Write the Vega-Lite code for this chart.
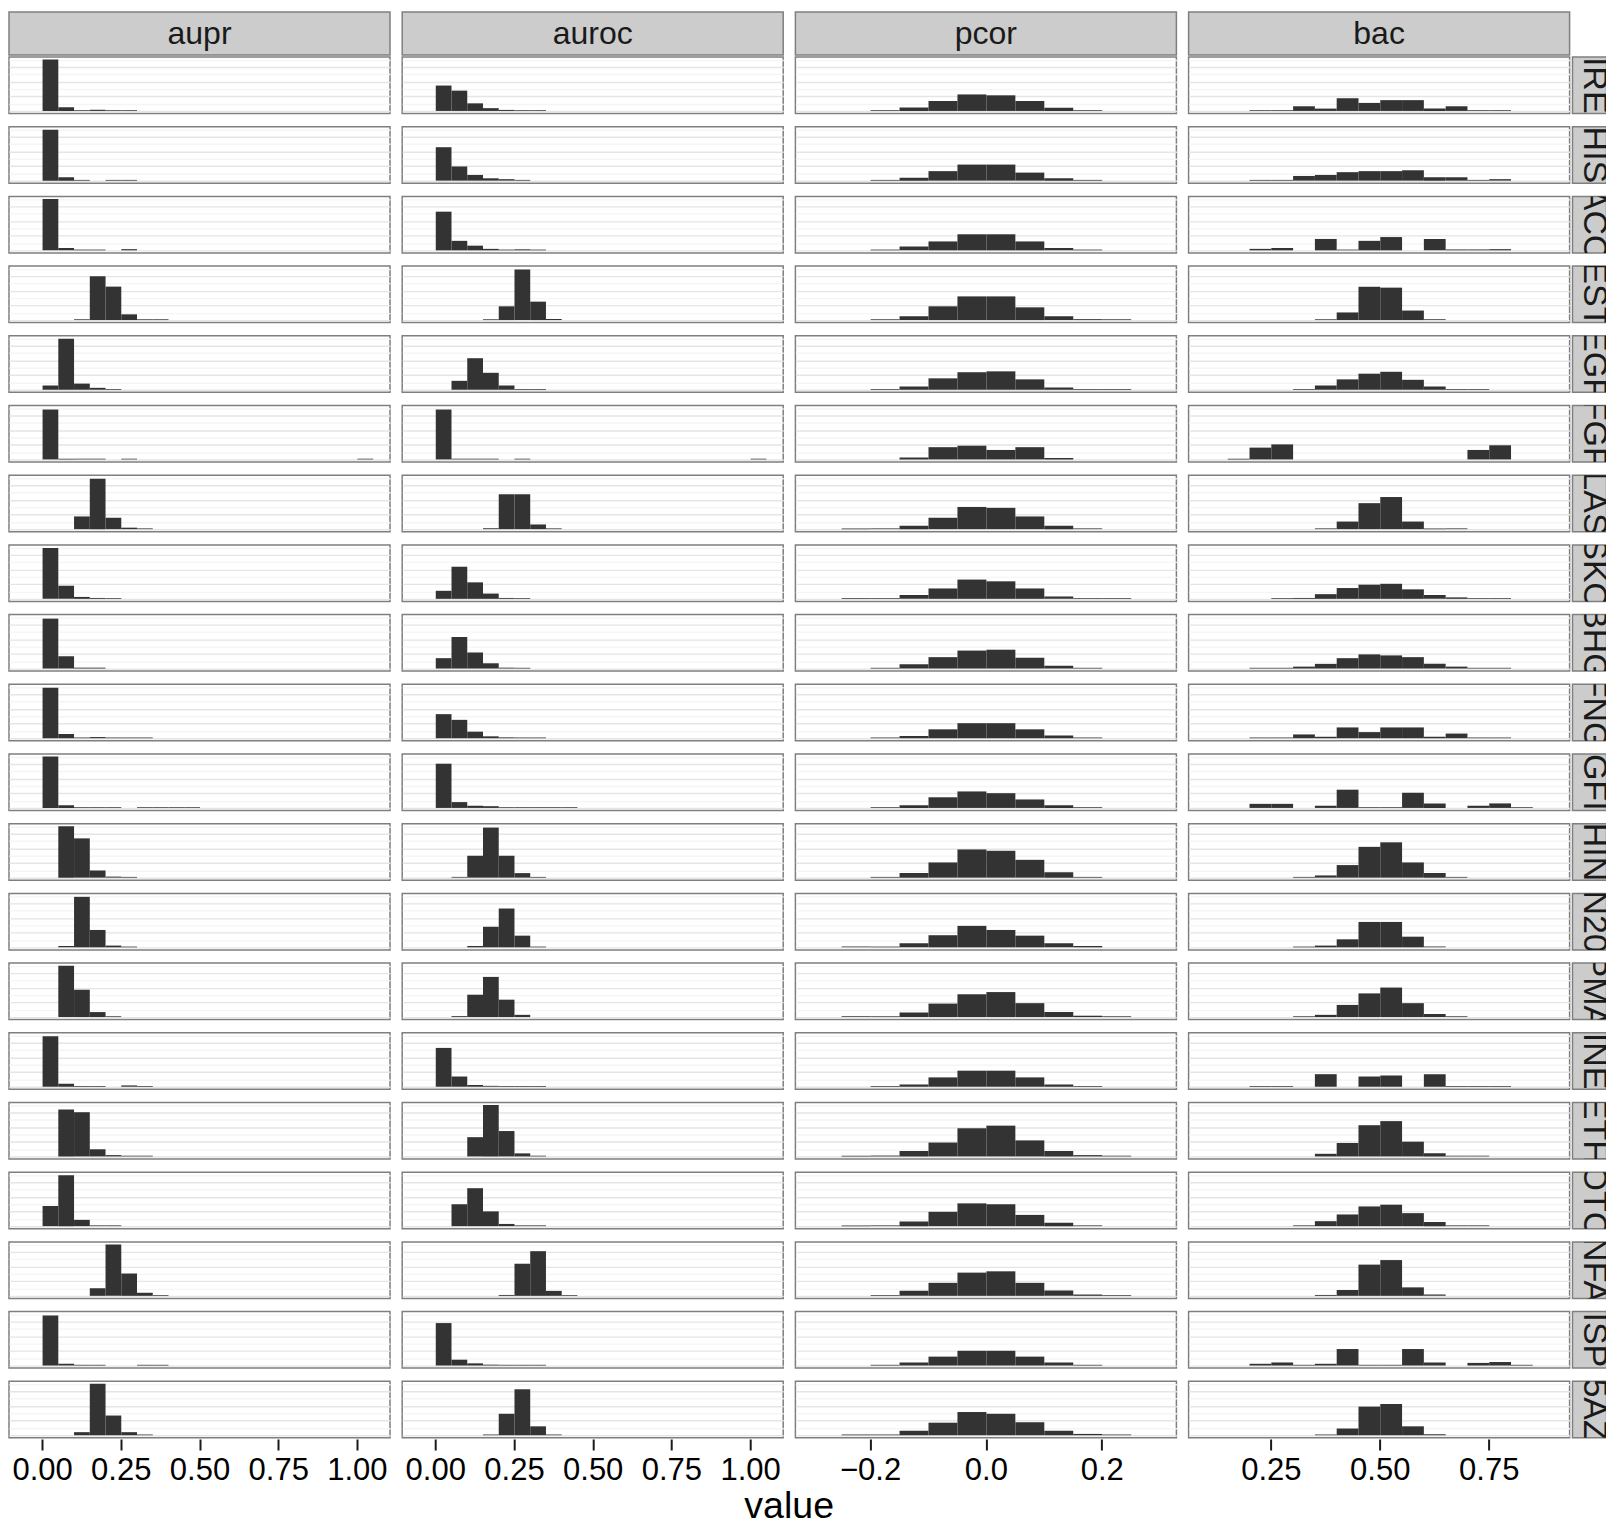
{
"$schema": "https://vega.github.io/schema/vega-lite/v6.json",
"padding": {"left": 8, "top": 11, "right": 0, "bottom": 0},
"background": "white",
"datasets": {
"targets": [{"t":"IRE"},{"t":"HIS"},{"t":"ACO"},{"t":"EST"},{"t":"EGF"},{"t":"FGF"},{"t":"LAS"},{"t":"SKO"},{"t":"BHG"},{"t":"FNG"},{"t":"GFI"},{"t":"HIN"},{"t":"N20"},{"t":"PMA"},{"t":"INE"},{"t":"ETH"},{"t":"OTC"},{"t":"NFA"},{"t":"ISP"},{"t":"5AZ"}],
"aupr": [
{"t":"IRE","lo":0,"hi":0.05,"n":352},{"t":"IRE","lo":0.05,"hi":0.1,"n":26},{"t":"IRE","lo":0.1,"hi":0.15,"n":5},{"t":"IRE","lo":0.15,"hi":0.2,"n":8},{"t":"IRE","lo":0.2,"hi":0.25,"n":5},{"t":"IRE","lo":0.25,"hi":0.3,"n":5},
{"t":"HIS","lo":0,"hi":0.05,"n":349},{"t":"HIS","lo":0.05,"hi":0.1,"n":23},{"t":"HIS","lo":0.1,"hi":0.15,"n":5},{"t":"HIS","lo":0.2,"hi":0.25,"n":5},{"t":"HIS","lo":0.25,"hi":0.3,"n":5},
{"t":"ACO","lo":0,"hi":0.05,"n":352},{"t":"ACO","lo":0.05,"hi":0.1,"n":16},{"t":"ACO","lo":0.1,"hi":0.15,"n":5},{"t":"ACO","lo":0.15,"hi":0.2,"n":5},{"t":"ACO","lo":0.25,"hi":0.3,"n":8},
{"t":"EST","lo":0.1,"hi":0.15,"n":5},{"t":"EST","lo":0.15,"hi":0.2,"n":300},{"t":"EST","lo":0.2,"hi":0.25,"n":229},{"t":"EST","lo":0.25,"hi":0.3,"n":39},{"t":"EST","lo":0.3,"hi":0.35,"n":5},{"t":"EST","lo":0.35,"hi":0.4,"n":5},
{"t":"EGF","lo":0,"hi":0.05,"n":29},{"t":"EGF","lo":0.05,"hi":0.1,"n":349},{"t":"EGF","lo":0.1,"hi":0.15,"n":42},{"t":"EGF","lo":0.15,"hi":0.2,"n":13},{"t":"EGF","lo":0.2,"hi":0.25,"n":5},
{"t":"FGF","lo":0,"hi":0.05,"n":342},{"t":"FGF","lo":0.05,"hi":0.1,"n":5},{"t":"FGF","lo":0.1,"hi":0.15,"n":5},{"t":"FGF","lo":0.15,"hi":0.2,"n":5},{"t":"FGF","lo":0.25,"hi":0.3,"n":5},{"t":"FGF","lo":1,"hi":1.05,"n":5},
{"t":"LAS","lo":0.1,"hi":0.15,"n":87},{"t":"LAS","lo":0.15,"hi":0.2,"n":346},{"t":"LAS","lo":0.2,"hi":0.25,"n":78},{"t":"LAS","lo":0.25,"hi":0.3,"n":10},{"t":"LAS","lo":0.3,"hi":0.35,"n":5},
{"t":"SKO","lo":0,"hi":0.05,"n":349},{"t":"SKO","lo":0.05,"hi":0.1,"n":90},{"t":"SKO","lo":0.1,"hi":0.15,"n":13},{"t":"SKO","lo":0.15,"hi":0.2,"n":6},{"t":"SKO","lo":0.2,"hi":0.25,"n":5},
{"t":"BHG","lo":0,"hi":0.05,"n":342},{"t":"BHG","lo":0.05,"hi":0.1,"n":84},{"t":"BHG","lo":0.1,"hi":0.15,"n":6},{"t":"BHG","lo":0.15,"hi":0.2,"n":6},
{"t":"FNG","lo":0,"hi":0.05,"n":346},{"t":"FNG","lo":0.05,"hi":0.1,"n":29},{"t":"FNG","lo":0.1,"hi":0.15,"n":5},{"t":"FNG","lo":0.15,"hi":0.2,"n":8},{"t":"FNG","lo":0.2,"hi":0.25,"n":5},{"t":"FNG","lo":0.25,"hi":0.3,"n":5},{"t":"FNG","lo":0.3,"hi":0.35,"n":5},
{"t":"GFI","lo":0,"hi":0.05,"n":352},{"t":"GFI","lo":0.05,"hi":0.1,"n":18},{"t":"GFI","lo":0.1,"hi":0.15,"n":5},{"t":"GFI","lo":0.15,"hi":0.2,"n":5},{"t":"GFI","lo":0.2,"hi":0.25,"n":5},{"t":"GFI","lo":0.3,"hi":0.35,"n":5},{"t":"GFI","lo":0.35,"hi":0.4,"n":5},{"t":"GFI","lo":0.4,"hi":0.45,"n":5},{"t":"GFI","lo":0.45,"hi":0.5,"n":5},
{"t":"HIN","lo":0.05,"hi":0.1,"n":352},{"t":"HIN","lo":0.1,"hi":0.15,"n":269},{"t":"HIN","lo":0.15,"hi":0.2,"n":49},{"t":"HIN","lo":0.2,"hi":0.25,"n":7},{"t":"HIN","lo":0.25,"hi":0.3,"n":5},
{"t":"N20","lo":0.05,"hi":0.1,"n":9},{"t":"N20","lo":0.1,"hi":0.15,"n":346},{"t":"N20","lo":0.15,"hi":0.2,"n":119},{"t":"N20","lo":0.2,"hi":0.25,"n":12},{"t":"N20","lo":0.25,"hi":0.3,"n":5},
{"t":"PMA","lo":0.05,"hi":0.1,"n":352},{"t":"PMA","lo":0.1,"hi":0.15,"n":187},{"t":"PMA","lo":0.15,"hi":0.2,"n":34},{"t":"PMA","lo":0.2,"hi":0.25,"n":5},
{"t":"INE","lo":0,"hi":0.05,"n":346},{"t":"INE","lo":0.05,"hi":0.1,"n":21},{"t":"INE","lo":0.1,"hi":0.15,"n":5},{"t":"INE","lo":0.15,"hi":0.2,"n":5},{"t":"INE","lo":0.25,"hi":0.3,"n":9},{"t":"INE","lo":0.3,"hi":0.35,"n":5},
{"t":"ETH","lo":0.05,"hi":0.1,"n":321},{"t":"ETH","lo":0.1,"hi":0.15,"n":303},{"t":"ETH","lo":0.15,"hi":0.2,"n":49},{"t":"ETH","lo":0.2,"hi":0.25,"n":9},{"t":"ETH","lo":0.25,"hi":0.3,"n":5},{"t":"ETH","lo":0.3,"hi":0.35,"n":5},
{"t":"OTC","lo":0,"hi":0.05,"n":138},{"t":"OTC","lo":0.05,"hi":0.1,"n":349},{"t":"OTC","lo":0.1,"hi":0.15,"n":43},{"t":"OTC","lo":0.15,"hi":0.2,"n":5},{"t":"OTC","lo":0.2,"hi":0.25,"n":5},
{"t":"NFA","lo":0.15,"hi":0.2,"n":52},{"t":"NFA","lo":0.2,"hi":0.25,"n":352},{"t":"NFA","lo":0.25,"hi":0.3,"n":153},{"t":"NFA","lo":0.3,"hi":0.35,"n":21},{"t":"NFA","lo":0.35,"hi":0.4,"n":5},
{"t":"ISP","lo":0,"hi":0.05,"n":343},{"t":"ISP","lo":0.05,"hi":0.1,"n":12},{"t":"ISP","lo":0.1,"hi":0.15,"n":5},{"t":"ISP","lo":0.15,"hi":0.2,"n":5},{"t":"ISP","lo":0.3,"hi":0.35,"n":5},{"t":"ISP","lo":0.35,"hi":0.4,"n":5},
{"t":"5AZ","lo":0.1,"hi":0.15,"n":21},{"t":"5AZ","lo":0.15,"hi":0.2,"n":352},{"t":"5AZ","lo":0.2,"hi":0.25,"n":135},{"t":"5AZ","lo":0.25,"hi":0.3,"n":21},{"t":"5AZ","lo":0.3,"hi":0.35,"n":5}
],
"auroc": [
{"t":"IRE","lo":0,"hi":0.05,"n":174},{"t":"IRE","lo":0.05,"hi":0.1,"n":139},{"t":"IRE","lo":0.1,"hi":0.15,"n":52},{"t":"IRE","lo":0.15,"hi":0.2,"n":19},{"t":"IRE","lo":0.2,"hi":0.25,"n":7},{"t":"IRE","lo":0.25,"hi":0.3,"n":5},{"t":"IRE","lo":0.3,"hi":0.35,"n":5},
{"t":"HIS","lo":0,"hi":0.05,"n":229},{"t":"HIS","lo":0.05,"hi":0.1,"n":97},{"t":"HIS","lo":0.1,"hi":0.15,"n":39},{"t":"HIS","lo":0.15,"hi":0.2,"n":16},{"t":"HIS","lo":0.2,"hi":0.25,"n":10},{"t":"HIS","lo":0.25,"hi":0.3,"n":5},
{"t":"ACO","lo":0,"hi":0.05,"n":265},{"t":"ACO","lo":0.05,"hi":0.1,"n":65},{"t":"ACO","lo":0.1,"hi":0.15,"n":32},{"t":"ACO","lo":0.15,"hi":0.2,"n":10},{"t":"ACO","lo":0.2,"hi":0.25,"n":5},{"t":"ACO","lo":0.25,"hi":0.3,"n":7},{"t":"ACO","lo":0.3,"hi":0.35,"n":5},
{"t":"EST","lo":0.15,"hi":0.2,"n":5},{"t":"EST","lo":0.2,"hi":0.25,"n":94},{"t":"EST","lo":0.25,"hi":0.3,"n":346},{"t":"EST","lo":0.3,"hi":0.35,"n":126},{"t":"EST","lo":0.35,"hi":0.4,"n":7},
{"t":"EGF","lo":0.05,"hi":0.1,"n":61},{"t":"EGF","lo":0.1,"hi":0.15,"n":216},{"t":"EGF","lo":0.15,"hi":0.2,"n":116},{"t":"EGF","lo":0.2,"hi":0.25,"n":29},{"t":"EGF","lo":0.25,"hi":0.3,"n":5},{"t":"EGF","lo":0.3,"hi":0.35,"n":5},
{"t":"FGF","lo":0,"hi":0.05,"n":342},{"t":"FGF","lo":0.05,"hi":0.1,"n":5},{"t":"FGF","lo":0.1,"hi":0.15,"n":5},{"t":"FGF","lo":0.15,"hi":0.2,"n":5},{"t":"FGF","lo":0.25,"hi":0.3,"n":5},{"t":"FGF","lo":1,"hi":1.05,"n":5},
{"t":"LAS","lo":0.15,"hi":0.2,"n":6},{"t":"LAS","lo":0.2,"hi":0.25,"n":239},{"t":"LAS","lo":0.25,"hi":0.3,"n":239},{"t":"LAS","lo":0.3,"hi":0.35,"n":32},{"t":"LAS","lo":0.35,"hi":0.4,"n":5},
{"t":"SKO","lo":0,"hi":0.05,"n":55},{"t":"SKO","lo":0.05,"hi":0.1,"n":220},{"t":"SKO","lo":0.1,"hi":0.15,"n":113},{"t":"SKO","lo":0.15,"hi":0.2,"n":36},{"t":"SKO","lo":0.2,"hi":0.25,"n":6},{"t":"SKO","lo":0.25,"hi":0.3,"n":5},
{"t":"BHG","lo":0,"hi":0.05,"n":71},{"t":"BHG","lo":0.05,"hi":0.1,"n":216},{"t":"BHG","lo":0.1,"hi":0.15,"n":110},{"t":"BHG","lo":0.15,"hi":0.2,"n":36},{"t":"BHG","lo":0.2,"hi":0.25,"n":6},{"t":"BHG","lo":0.25,"hi":0.3,"n":5},
{"t":"FNG","lo":0,"hi":0.05,"n":165},{"t":"FNG","lo":0.05,"hi":0.1,"n":126},{"t":"FNG","lo":0.1,"hi":0.15,"n":45},{"t":"FNG","lo":0.15,"hi":0.2,"n":13},{"t":"FNG","lo":0.2,"hi":0.25,"n":6},{"t":"FNG","lo":0.25,"hi":0.3,"n":5},{"t":"FNG","lo":0.3,"hi":0.35,"n":5},
{"t":"GFI","lo":0,"hi":0.05,"n":303},{"t":"GFI","lo":0.05,"hi":0.1,"n":40},{"t":"GFI","lo":0.1,"hi":0.15,"n":15},{"t":"GFI","lo":0.15,"hi":0.2,"n":12},{"t":"GFI","lo":0.2,"hi":0.25,"n":5},{"t":"GFI","lo":0.25,"hi":0.3,"n":5},{"t":"GFI","lo":0.3,"hi":0.35,"n":5},{"t":"GFI","lo":0.35,"hi":0.4,"n":5},{"t":"GFI","lo":0.4,"hi":0.45,"n":5},
{"t":"HIN","lo":0.05,"hi":0.1,"n":5},{"t":"HIN","lo":0.1,"hi":0.15,"n":150},{"t":"HIN","lo":0.15,"hi":0.2,"n":343},{"t":"HIN","lo":0.2,"hi":0.25,"n":150},{"t":"HIN","lo":0.25,"hi":0.3,"n":31},{"t":"HIN","lo":0.3,"hi":0.35,"n":5},
{"t":"N20","lo":0.1,"hi":0.15,"n":9},{"t":"N20","lo":0.15,"hi":0.2,"n":141},{"t":"N20","lo":0.2,"hi":0.25,"n":266},{"t":"N20","lo":0.25,"hi":0.3,"n":80},{"t":"N20","lo":0.3,"hi":0.35,"n":5},
{"t":"PMA","lo":0.05,"hi":0.1,"n":6},{"t":"PMA","lo":0.1,"hi":0.15,"n":153},{"t":"PMA","lo":0.15,"hi":0.2,"n":275},{"t":"PMA","lo":0.2,"hi":0.25,"n":119},{"t":"PMA","lo":0.25,"hi":0.3,"n":15},
{"t":"INE","lo":0,"hi":0.05,"n":266},{"t":"INE","lo":0.05,"hi":0.1,"n":70},{"t":"INE","lo":0.1,"hi":0.15,"n":12},{"t":"INE","lo":0.15,"hi":0.2,"n":6},{"t":"INE","lo":0.2,"hi":0.25,"n":5},{"t":"INE","lo":0.25,"hi":0.3,"n":5},{"t":"INE","lo":0.3,"hi":0.35,"n":5},
{"t":"ETH","lo":0.1,"hi":0.15,"n":132},{"t":"ETH","lo":0.15,"hi":0.2,"n":352},{"t":"ETH","lo":0.2,"hi":0.25,"n":174},{"t":"ETH","lo":0.25,"hi":0.3,"n":21},{"t":"ETH","lo":0.3,"hi":0.35,"n":5},
{"t":"OTC","lo":0.05,"hi":0.1,"n":150},{"t":"OTC","lo":0.1,"hi":0.15,"n":260},{"t":"OTC","lo":0.15,"hi":0.2,"n":101},{"t":"OTC","lo":0.2,"hi":0.25,"n":15},{"t":"OTC","lo":0.25,"hi":0.3,"n":5},{"t":"OTC","lo":0.3,"hi":0.35,"n":5},
{"t":"NFA","lo":0.2,"hi":0.25,"n":6},{"t":"NFA","lo":0.25,"hi":0.3,"n":220},{"t":"NFA","lo":0.3,"hi":0.35,"n":306},{"t":"NFA","lo":0.35,"hi":0.4,"n":34},{"t":"NFA","lo":0.4,"hi":0.45,"n":5},
{"t":"ISP","lo":0,"hi":0.05,"n":291},{"t":"ISP","lo":0.05,"hi":0.1,"n":40},{"t":"ISP","lo":0.1,"hi":0.15,"n":15},{"t":"ISP","lo":0.15,"hi":0.2,"n":6},{"t":"ISP","lo":0.2,"hi":0.25,"n":5},{"t":"ISP","lo":0.25,"hi":0.3,"n":5},{"t":"ISP","lo":0.3,"hi":0.35,"n":5},
{"t":"5AZ","lo":0.15,"hi":0.2,"n":5},{"t":"5AZ","lo":0.2,"hi":0.25,"n":147},{"t":"5AZ","lo":0.25,"hi":0.3,"n":315},{"t":"5AZ","lo":0.3,"hi":0.35,"n":61},{"t":"5AZ","lo":0.35,"hi":0.4,"n":5}
],
"pcor": [
{"t":"IRE","lo":-0.2,"hi":-0.15,"n":5},{"t":"IRE","lo":-0.15,"hi":-0.1,"n":23},{"t":"IRE","lo":-0.1,"hi":-0.05,"n":68},{"t":"IRE","lo":-0.05,"hi":0,"n":113},{"t":"IRE","lo":0,"hi":0.05,"n":107},{"t":"IRE","lo":0.05,"hi":0.1,"n":68},{"t":"IRE","lo":0.1,"hi":0.15,"n":21},{"t":"IRE","lo":0.15,"hi":0.2,"n":5},
{"t":"HIS","lo":-0.2,"hi":-0.15,"n":5},{"t":"HIS","lo":-0.15,"hi":-0.1,"n":19},{"t":"HIS","lo":-0.1,"hi":-0.05,"n":65},{"t":"HIS","lo":-0.05,"hi":0,"n":110},{"t":"HIS","lo":0,"hi":0.05,"n":110},{"t":"HIS","lo":0.05,"hi":0.1,"n":55},{"t":"HIS","lo":0.1,"hi":0.15,"n":16},{"t":"HIS","lo":0.15,"hi":0.2,"n":5},
{"t":"ACO","lo":-0.2,"hi":-0.15,"n":5},{"t":"ACO","lo":-0.15,"hi":-0.1,"n":26},{"t":"ACO","lo":-0.1,"hi":-0.05,"n":61},{"t":"ACO","lo":-0.05,"hi":0,"n":110},{"t":"ACO","lo":0,"hi":0.05,"n":110},{"t":"ACO","lo":0.05,"hi":0.1,"n":61},{"t":"ACO","lo":0.1,"hi":0.15,"n":16},{"t":"ACO","lo":0.15,"hi":0.2,"n":5},
{"t":"EST","lo":-0.2,"hi":-0.15,"n":5},{"t":"EST","lo":-0.15,"hi":-0.1,"n":26},{"t":"EST","lo":-0.1,"hi":-0.05,"n":94},{"t":"EST","lo":-0.05,"hi":0,"n":162},{"t":"EST","lo":0,"hi":0.05,"n":162},{"t":"EST","lo":0.05,"hi":0.1,"n":87},{"t":"EST","lo":0.1,"hi":0.15,"n":26},{"t":"EST","lo":0.15,"hi":0.2,"n":6},{"t":"EST","lo":0.2,"hi":0.25,"n":5},
{"t":"EGF","lo":-0.2,"hi":-0.15,"n":5},{"t":"EGF","lo":-0.15,"hi":-0.1,"n":23},{"t":"EGF","lo":-0.1,"hi":-0.05,"n":78},{"t":"EGF","lo":-0.05,"hi":0,"n":120},{"t":"EGF","lo":0,"hi":0.05,"n":126},{"t":"EGF","lo":0.05,"hi":0.1,"n":71},{"t":"EGF","lo":0.1,"hi":0.15,"n":16},{"t":"EGF","lo":0.15,"hi":0.2,"n":5},{"t":"EGF","lo":0.2,"hi":0.25,"n":5},
{"t":"FGF","lo":-0.15,"hi":-0.1,"n":13},{"t":"FGF","lo":-0.1,"hi":-0.05,"n":84},{"t":"FGF","lo":-0.05,"hi":0,"n":94},{"t":"FGF","lo":0,"hi":0.05,"n":65},{"t":"FGF","lo":0.05,"hi":0.1,"n":84},{"t":"FGF","lo":0.1,"hi":0.15,"n":10},
{"t":"LAS","lo":-0.25,"hi":-0.2,"n":5},{"t":"LAS","lo":-0.2,"hi":-0.15,"n":5},{"t":"LAS","lo":-0.15,"hi":-0.1,"n":23},{"t":"LAS","lo":-0.1,"hi":-0.05,"n":78},{"t":"LAS","lo":-0.05,"hi":0,"n":152},{"t":"LAS","lo":0,"hi":0.05,"n":146},{"t":"LAS","lo":0.05,"hi":0.1,"n":87},{"t":"LAS","lo":0.1,"hi":0.15,"n":23},{"t":"LAS","lo":0.15,"hi":0.2,"n":5},
{"t":"SKO","lo":-0.25,"hi":-0.2,"n":5},{"t":"SKO","lo":-0.2,"hi":-0.15,"n":5},{"t":"SKO","lo":-0.15,"hi":-0.1,"n":26},{"t":"SKO","lo":-0.1,"hi":-0.05,"n":71},{"t":"SKO","lo":-0.05,"hi":0,"n":132},{"t":"SKO","lo":0,"hi":0.05,"n":120},{"t":"SKO","lo":0.05,"hi":0.1,"n":71},{"t":"SKO","lo":0.1,"hi":0.15,"n":16},{"t":"SKO","lo":0.15,"hi":0.2,"n":5},{"t":"SKO","lo":0.2,"hi":0.25,"n":5},
{"t":"BHG","lo":-0.2,"hi":-0.15,"n":5},{"t":"BHG","lo":-0.15,"hi":-0.1,"n":29},{"t":"BHG","lo":-0.1,"hi":-0.05,"n":78},{"t":"BHG","lo":-0.05,"hi":0,"n":123},{"t":"BHG","lo":0,"hi":0.05,"n":129},{"t":"BHG","lo":0.05,"hi":0.1,"n":74},{"t":"BHG","lo":0.1,"hi":0.15,"n":19},{"t":"BHG","lo":0.15,"hi":0.2,"n":5},
{"t":"FNG","lo":-0.2,"hi":-0.15,"n":5},{"t":"FNG","lo":-0.15,"hi":-0.1,"n":16},{"t":"FNG","lo":-0.1,"hi":-0.05,"n":61},{"t":"FNG","lo":-0.05,"hi":0,"n":103},{"t":"FNG","lo":0,"hi":0.05,"n":103},{"t":"FNG","lo":0.05,"hi":0.1,"n":61},{"t":"FNG","lo":0.1,"hi":0.15,"n":19},{"t":"FNG","lo":0.15,"hi":0.2,"n":5},
{"t":"GFI","lo":-0.2,"hi":-0.15,"n":5},{"t":"GFI","lo":-0.15,"hi":-0.1,"n":18},{"t":"GFI","lo":-0.1,"hi":-0.05,"n":73},{"t":"GFI","lo":-0.05,"hi":0,"n":113},{"t":"GFI","lo":0,"hi":0.05,"n":101},{"t":"GFI","lo":0.05,"hi":0.1,"n":58},{"t":"GFI","lo":0.1,"hi":0.15,"n":18},{"t":"GFI","lo":0.15,"hi":0.2,"n":5},
{"t":"HIN","lo":-0.2,"hi":-0.15,"n":5},{"t":"HIN","lo":-0.15,"hi":-0.1,"n":31},{"t":"HIN","lo":-0.1,"hi":-0.05,"n":104},{"t":"HIN","lo":-0.05,"hi":0,"n":193},{"t":"HIN","lo":0,"hi":0.05,"n":184},{"t":"HIN","lo":0.05,"hi":0.1,"n":122},{"t":"HIN","lo":0.1,"hi":0.15,"n":37},{"t":"HIN","lo":0.15,"hi":0.2,"n":5},
{"t":"N20","lo":-0.25,"hi":-0.2,"n":5},{"t":"N20","lo":-0.2,"hi":-0.15,"n":5},{"t":"N20","lo":-0.15,"hi":-0.1,"n":28},{"t":"N20","lo":-0.1,"hi":-0.05,"n":83},{"t":"N20","lo":-0.05,"hi":0,"n":147},{"t":"N20","lo":0,"hi":0.05,"n":119},{"t":"N20","lo":0.05,"hi":0.1,"n":80},{"t":"N20","lo":0.1,"hi":0.15,"n":28},{"t":"N20","lo":0.15,"hi":0.2,"n":9},
{"t":"PMA","lo":-0.25,"hi":-0.2,"n":5},{"t":"PMA","lo":-0.2,"hi":-0.15,"n":5},{"t":"PMA","lo":-0.15,"hi":-0.1,"n":31},{"t":"PMA","lo":-0.1,"hi":-0.05,"n":92},{"t":"PMA","lo":-0.05,"hi":0,"n":156},{"t":"PMA","lo":0,"hi":0.05,"n":171},{"t":"PMA","lo":0.05,"hi":0.1,"n":95},{"t":"PMA","lo":0.1,"hi":0.15,"n":34},{"t":"PMA","lo":0.15,"hi":0.2,"n":9},{"t":"PMA","lo":0.2,"hi":0.25,"n":5},
{"t":"INE","lo":-0.2,"hi":-0.15,"n":5},{"t":"INE","lo":-0.15,"hi":-0.1,"n":15},{"t":"INE","lo":-0.1,"hi":-0.05,"n":64},{"t":"INE","lo":-0.05,"hi":0,"n":110},{"t":"INE","lo":0,"hi":0.05,"n":110},{"t":"INE","lo":0.05,"hi":0.1,"n":64},{"t":"INE","lo":0.1,"hi":0.15,"n":15},{"t":"INE","lo":0.15,"hi":0.2,"n":5},
{"t":"ETH","lo":-0.25,"hi":-0.2,"n":5},{"t":"ETH","lo":-0.2,"hi":-0.15,"n":6},{"t":"ETH","lo":-0.15,"hi":-0.1,"n":37},{"t":"ETH","lo":-0.1,"hi":-0.05,"n":95},{"t":"ETH","lo":-0.05,"hi":0,"n":193},{"t":"ETH","lo":0,"hi":0.05,"n":211},{"t":"ETH","lo":0.05,"hi":0.1,"n":110},{"t":"ETH","lo":0.1,"hi":0.15,"n":37},{"t":"ETH","lo":0.15,"hi":0.2,"n":9},{"t":"ETH","lo":0.2,"hi":0.25,"n":5},
{"t":"OTC","lo":-0.25,"hi":-0.2,"n":5},{"t":"OTC","lo":-0.2,"hi":-0.15,"n":5},{"t":"OTC","lo":-0.15,"hi":-0.1,"n":31},{"t":"OTC","lo":-0.1,"hi":-0.05,"n":98},{"t":"OTC","lo":-0.05,"hi":0,"n":156},{"t":"OTC","lo":0,"hi":0.05,"n":150},{"t":"OTC","lo":0.05,"hi":0.1,"n":77},{"t":"OTC","lo":0.1,"hi":0.15,"n":24},{"t":"OTC","lo":0.15,"hi":0.2,"n":5},
{"t":"NFA","lo":-0.2,"hi":-0.15,"n":5},{"t":"NFA","lo":-0.15,"hi":-0.1,"n":34},{"t":"NFA","lo":-0.1,"hi":-0.05,"n":89},{"t":"NFA","lo":-0.05,"hi":0,"n":159},{"t":"NFA","lo":0,"hi":0.05,"n":168},{"t":"NFA","lo":0.05,"hi":0.1,"n":89},{"t":"NFA","lo":0.1,"hi":0.15,"n":37},{"t":"NFA","lo":0.15,"hi":0.2,"n":9},{"t":"NFA","lo":0.2,"hi":0.25,"n":5},
{"t":"ISP","lo":-0.2,"hi":-0.15,"n":5},{"t":"ISP","lo":-0.15,"hi":-0.1,"n":21},{"t":"ISP","lo":-0.1,"hi":-0.05,"n":61},{"t":"ISP","lo":-0.05,"hi":0,"n":101},{"t":"ISP","lo":0,"hi":0.05,"n":101},{"t":"ISP","lo":0.05,"hi":0.1,"n":61},{"t":"ISP","lo":0.1,"hi":0.15,"n":21},{"t":"ISP","lo":0.15,"hi":0.2,"n":5},
{"t":"5AZ","lo":-0.25,"hi":-0.2,"n":5},{"t":"5AZ","lo":-0.2,"hi":-0.15,"n":5},{"t":"5AZ","lo":-0.15,"hi":-0.1,"n":31},{"t":"5AZ","lo":-0.1,"hi":-0.05,"n":86},{"t":"5AZ","lo":-0.05,"hi":0,"n":159},{"t":"5AZ","lo":0,"hi":0.05,"n":147},{"t":"5AZ","lo":0.05,"hi":0.1,"n":89},{"t":"5AZ","lo":0.1,"hi":0.15,"n":31},{"t":"5AZ","lo":0.15,"hi":0.2,"n":9},{"t":"5AZ","lo":0.2,"hi":0.25,"n":5}
],
"bac": [
{"t":"IRE","lo":0.2,"hi":0.25,"n":5},{"t":"IRE","lo":0.25,"hi":0.3,"n":5},{"t":"IRE","lo":0.3,"hi":0.35,"n":32},{"t":"IRE","lo":0.35,"hi":0.4,"n":16},{"t":"IRE","lo":0.4,"hi":0.45,"n":87},{"t":"IRE","lo":0.45,"hi":0.5,"n":55},{"t":"IRE","lo":0.5,"hi":0.55,"n":74},{"t":"IRE","lo":0.55,"hi":0.6,"n":74},{"t":"IRE","lo":0.6,"hi":0.65,"n":16},{"t":"IRE","lo":0.65,"hi":0.7,"n":32},{"t":"IRE","lo":0.7,"hi":0.75,"n":5},{"t":"IRE","lo":0.75,"hi":0.8,"n":5},
{"t":"HIS","lo":0.2,"hi":0.25,"n":5},{"t":"HIS","lo":0.25,"hi":0.3,"n":5},{"t":"HIS","lo":0.3,"hi":0.35,"n":32},{"t":"HIS","lo":0.35,"hi":0.4,"n":39},{"t":"HIS","lo":0.4,"hi":0.45,"n":58},{"t":"HIS","lo":0.45,"hi":0.5,"n":65},{"t":"HIS","lo":0.5,"hi":0.55,"n":65},{"t":"HIS","lo":0.55,"hi":0.6,"n":71},{"t":"HIS","lo":0.6,"hi":0.65,"n":23},{"t":"HIS","lo":0.65,"hi":0.7,"n":23},{"t":"HIS","lo":0.7,"hi":0.75,"n":5},{"t":"HIS","lo":0.75,"hi":0.8,"n":10},
{"t":"ACO","lo":0.2,"hi":0.25,"n":10},{"t":"ACO","lo":0.25,"hi":0.3,"n":16},{"t":"ACO","lo":0.35,"hi":0.4,"n":78},{"t":"ACO","lo":0.4,"hi":0.45,"n":5},{"t":"ACO","lo":0.45,"hi":0.5,"n":65},{"t":"ACO","lo":0.5,"hi":0.55,"n":91},{"t":"ACO","lo":0.6,"hi":0.65,"n":78},{"t":"ACO","lo":0.65,"hi":0.7,"n":6},{"t":"ACO","lo":0.7,"hi":0.75,"n":6},{"t":"ACO","lo":0.75,"hi":0.8,"n":8},
{"t":"EST","lo":0.35,"hi":0.4,"n":5},{"t":"EST","lo":0.4,"hi":0.45,"n":52},{"t":"EST","lo":0.45,"hi":0.5,"n":228},{"t":"EST","lo":0.5,"hi":0.55,"n":222},{"t":"EST","lo":0.55,"hi":0.6,"n":65},{"t":"EST","lo":0.6,"hi":0.65,"n":6},
{"t":"EGF","lo":0.3,"hi":0.35,"n":5},{"t":"EGF","lo":0.35,"hi":0.4,"n":29},{"t":"EGF","lo":0.4,"hi":0.45,"n":71},{"t":"EGF","lo":0.45,"hi":0.5,"n":110},{"t":"EGF","lo":0.5,"hi":0.55,"n":123},{"t":"EGF","lo":0.55,"hi":0.6,"n":68},{"t":"EGF","lo":0.6,"hi":0.65,"n":23},{"t":"EGF","lo":0.65,"hi":0.7,"n":5},{"t":"EGF","lo":0.7,"hi":0.75,"n":5},
{"t":"FGF","lo":0.15,"hi":0.2,"n":5},{"t":"FGF","lo":0.2,"hi":0.25,"n":81},{"t":"FGF","lo":0.25,"hi":0.3,"n":103},{"t":"FGF","lo":0.7,"hi":0.75,"n":65},{"t":"FGF","lo":0.75,"hi":0.8,"n":97},
{"t":"LAS","lo":0.35,"hi":0.4,"n":5},{"t":"LAS","lo":0.4,"hi":0.45,"n":52},{"t":"LAS","lo":0.45,"hi":0.5,"n":178},{"t":"LAS","lo":0.5,"hi":0.55,"n":220},{"t":"LAS","lo":0.55,"hi":0.6,"n":52},{"t":"LAS","lo":0.6,"hi":0.65,"n":5},{"t":"LAS","lo":0.65,"hi":0.7,"n":5},
{"t":"SKO","lo":0.25,"hi":0.3,"n":5},{"t":"SKO","lo":0.3,"hi":0.35,"n":6},{"t":"SKO","lo":0.35,"hi":0.4,"n":32},{"t":"SKO","lo":0.4,"hi":0.45,"n":74},{"t":"SKO","lo":0.45,"hi":0.5,"n":97},{"t":"SKO","lo":0.5,"hi":0.55,"n":103},{"t":"SKO","lo":0.55,"hi":0.6,"n":65},{"t":"SKO","lo":0.6,"hi":0.65,"n":26},{"t":"SKO","lo":0.65,"hi":0.7,"n":10},{"t":"SKO","lo":0.7,"hi":0.75,"n":5},{"t":"SKO","lo":0.75,"hi":0.8,"n":5},
{"t":"BHG","lo":0.2,"hi":0.25,"n":5},{"t":"BHG","lo":0.25,"hi":0.3,"n":5},{"t":"BHG","lo":0.3,"hi":0.35,"n":13},{"t":"BHG","lo":0.35,"hi":0.4,"n":32},{"t":"BHG","lo":0.4,"hi":0.45,"n":71},{"t":"BHG","lo":0.45,"hi":0.5,"n":97},{"t":"BHG","lo":0.5,"hi":0.55,"n":90},{"t":"BHG","lo":0.55,"hi":0.6,"n":78},{"t":"BHG","lo":0.6,"hi":0.65,"n":32},{"t":"BHG","lo":0.65,"hi":0.7,"n":13},{"t":"BHG","lo":0.7,"hi":0.75,"n":5},{"t":"BHG","lo":0.75,"hi":0.8,"n":5},
{"t":"FNG","lo":0.2,"hi":0.25,"n":5},{"t":"FNG","lo":0.25,"hi":0.3,"n":5},{"t":"FNG","lo":0.3,"hi":0.35,"n":26},{"t":"FNG","lo":0.35,"hi":0.4,"n":10},{"t":"FNG","lo":0.4,"hi":0.45,"n":74},{"t":"FNG","lo":0.45,"hi":0.5,"n":42},{"t":"FNG","lo":0.5,"hi":0.55,"n":74},{"t":"FNG","lo":0.55,"hi":0.6,"n":74},{"t":"FNG","lo":0.6,"hi":0.65,"n":10},{"t":"FNG","lo":0.65,"hi":0.7,"n":32},{"t":"FNG","lo":0.7,"hi":0.75,"n":5},{"t":"FNG","lo":0.75,"hi":0.8,"n":5},
{"t":"GFI","lo":0.2,"hi":0.25,"n":28},{"t":"GFI","lo":0.25,"hi":0.3,"n":28},{"t":"GFI","lo":0.35,"hi":0.4,"n":15},{"t":"GFI","lo":0.4,"hi":0.45,"n":125},{"t":"GFI","lo":0.45,"hi":0.5,"n":5},{"t":"GFI","lo":0.5,"hi":0.55,"n":5},{"t":"GFI","lo":0.55,"hi":0.6,"n":104},{"t":"GFI","lo":0.6,"hi":0.65,"n":31},{"t":"GFI","lo":0.7,"hi":0.75,"n":15},{"t":"GFI","lo":0.75,"hi":0.8,"n":31},{"t":"GFI","lo":0.8,"hi":0.85,"n":5},
{"t":"HIN","lo":0.3,"hi":0.35,"n":5},{"t":"HIN","lo":0.35,"hi":0.4,"n":15},{"t":"HIN","lo":0.4,"hi":0.45,"n":86},{"t":"HIN","lo":0.45,"hi":0.5,"n":211},{"t":"HIN","lo":0.5,"hi":0.55,"n":242},{"t":"HIN","lo":0.55,"hi":0.6,"n":104},{"t":"HIN","lo":0.6,"hi":0.65,"n":31},{"t":"HIN","lo":0.65,"hi":0.7,"n":5},
{"t":"N20","lo":0.3,"hi":0.35,"n":5},{"t":"N20","lo":0.35,"hi":0.4,"n":12},{"t":"N20","lo":0.4,"hi":0.45,"n":55},{"t":"N20","lo":0.45,"hi":0.5,"n":174},{"t":"N20","lo":0.5,"hi":0.55,"n":174},{"t":"N20","lo":0.55,"hi":0.6,"n":73},{"t":"N20","lo":0.6,"hi":0.65,"n":6},
{"t":"PMA","lo":0.3,"hi":0.35,"n":5},{"t":"PMA","lo":0.35,"hi":0.4,"n":15},{"t":"PMA","lo":0.4,"hi":0.45,"n":83},{"t":"PMA","lo":0.45,"hi":0.5,"n":162},{"t":"PMA","lo":0.5,"hi":0.55,"n":202},{"t":"PMA","lo":0.55,"hi":0.6,"n":95},{"t":"PMA","lo":0.6,"hi":0.65,"n":21},{"t":"PMA","lo":0.65,"hi":0.7,"n":5},
{"t":"INE","lo":0.2,"hi":0.25,"n":5},{"t":"INE","lo":0.25,"hi":0.3,"n":5},{"t":"INE","lo":0.35,"hi":0.4,"n":86},{"t":"INE","lo":0.45,"hi":0.5,"n":70},{"t":"INE","lo":0.5,"hi":0.55,"n":77},{"t":"INE","lo":0.6,"hi":0.65,"n":86},{"t":"INE","lo":0.65,"hi":0.7,"n":5},{"t":"INE","lo":0.7,"hi":0.75,"n":5},{"t":"INE","lo":0.75,"hi":0.8,"n":5},
{"t":"ETH","lo":0.35,"hi":0.4,"n":18},{"t":"ETH","lo":0.4,"hi":0.45,"n":92},{"t":"ETH","lo":0.45,"hi":0.5,"n":214},{"t":"ETH","lo":0.5,"hi":0.55,"n":242},{"t":"ETH","lo":0.55,"hi":0.6,"n":101},{"t":"ETH","lo":0.6,"hi":0.65,"n":21},{"t":"ETH","lo":0.65,"hi":0.7,"n":5},{"t":"ETH","lo":0.7,"hi":0.75,"n":5},
{"t":"OTC","lo":0.3,"hi":0.35,"n":5},{"t":"OTC","lo":0.35,"hi":0.4,"n":34},{"t":"OTC","lo":0.4,"hi":0.45,"n":80},{"t":"OTC","lo":0.45,"hi":0.5,"n":135},{"t":"OTC","lo":0.5,"hi":0.55,"n":147},{"t":"OTC","lo":0.55,"hi":0.6,"n":89},{"t":"OTC","lo":0.6,"hi":0.65,"n":28},{"t":"OTC","lo":0.65,"hi":0.7,"n":5},{"t":"OTC","lo":0.7,"hi":0.75,"n":5},
{"t":"NFA","lo":0.35,"hi":0.4,"n":6},{"t":"NFA","lo":0.4,"hi":0.45,"n":40},{"t":"NFA","lo":0.45,"hi":0.5,"n":214},{"t":"NFA","lo":0.5,"hi":0.55,"n":245},{"t":"NFA","lo":0.55,"hi":0.6,"n":58},{"t":"NFA","lo":0.6,"hi":0.65,"n":9},
{"t":"ISP","lo":0.2,"hi":0.25,"n":12},{"t":"ISP","lo":0.25,"hi":0.3,"n":21},{"t":"ISP","lo":0.3,"hi":0.35,"n":5},{"t":"ISP","lo":0.35,"hi":0.4,"n":12},{"t":"ISP","lo":0.4,"hi":0.45,"n":113},{"t":"ISP","lo":0.45,"hi":0.5,"n":5},{"t":"ISP","lo":0.5,"hi":0.55,"n":5},{"t":"ISP","lo":0.55,"hi":0.6,"n":113},{"t":"ISP","lo":0.6,"hi":0.65,"n":21},{"t":"ISP","lo":0.7,"hi":0.75,"n":18},{"t":"ISP","lo":0.75,"hi":0.8,"n":24},{"t":"ISP","lo":0.8,"hi":0.85,"n":5},
{"t":"5AZ","lo":0.35,"hi":0.4,"n":5},{"t":"5AZ","lo":0.4,"hi":0.45,"n":46},{"t":"5AZ","lo":0.45,"hi":0.5,"n":196},{"t":"5AZ","lo":0.5,"hi":0.55,"n":214},{"t":"5AZ","lo":0.55,"hi":0.6,"n":61},{"t":"5AZ","lo":0.6,"hi":0.65,"n":6}
]
},
"vconcat": [
{
"hconcat": [
{"data": {"values": [{"m": "aupr"}]}, "width": 381, "height": 43, "view": {"fill": "#CCCCCC", "stroke": "#7F7F7F", "strokeWidth": 1.5}, "mark": {"type": "text", "fontSize": 32, "color": "#1A1A1A", "baseline": "middle"}, "encoding": {"text": {"field": "m"}}},
{"data": {"values": [{"m": "auroc"}]}, "width": 381, "height": 43, "view": {"fill": "#CCCCCC", "stroke": "#7F7F7F", "strokeWidth": 1.5}, "mark": {"type": "text", "fontSize": 32, "color": "#1A1A1A", "baseline": "middle"}, "encoding": {"text": {"field": "m"}}},
{"data": {"values": [{"m": "pcor"}]}, "width": 381, "height": 43, "view": {"fill": "#CCCCCC", "stroke": "#7F7F7F", "strokeWidth": 1.5}, "mark": {"type": "text", "fontSize": 32, "color": "#1A1A1A", "baseline": "middle"}, "encoding": {"text": {"field": "m"}}},
{"data": {"values": [{"m": "bac"}]}, "width": 381, "height": 43, "view": {"fill": "#CCCCCC", "stroke": "#7F7F7F", "strokeWidth": 1.5}, "mark": {"type": "text", "fontSize": 32, "color": "#1A1A1A", "baseline": "middle"}, "encoding": {"text": {"field": "m"}}}
],
"spacing": 10.2
},
{
"hconcat": [
{
"hconcat": [
{
"data": {"name": "aupr"},
"facet": {"row": {"field": "t", "type": "nominal", "sort": ["IRE","HIS","ACO","EST","EGF","FGF","LAS","SKO","BHG","FNG","GFI","HIN","N20","PMA","INE","ETH","OTC","NFA","ISP","5AZ"], "header": null}},
"spacing": {"row": 10.7},
"spec": {
"width": 381, "height": 56.5,
"mark": {"type": "bar", "binSpacing": 0, "color": "#333333"},
"encoding": {
"x": {"field": "lo", "type": "quantitative", "bin": "binned", "scale": {"domain": [-0.105, 1.105], "nice": false, "zero": false},
 "axis": {"title": null, "values": [0, 0.125, 0.25, 0.375, 0.5, 0.625, 0.75, 0.875, 1],
  "labelExpr": "abs(datum.value*4-round(datum.value*4))<0.001 ? format(datum.value,'.2f') : ''",
  "gridColor": {"condition": {"test": "abs(datum.value*4-round(datum.value*4))<0.001", "value": "#E5E5E5"}, "value": "#F5F5F5"},
  "tickOpacity": {"condition": {"test": "abs(datum.value*4-round(datum.value*4))<0.001", "value": 1}, "value": 0}}},
"x2": {"field": "hi"},
"y": {"field": "n", "type": "quantitative", "scale": {"domain": [-17.6, 369.6], "nice": false, "zero": false},
 "axis": {"title": null, "labels": false, "ticks": false, "domain": false, "values": [0, 50, 100, 150, 200, 250, 300, 350],
  "gridColor": {"condition": {"test": "datum.value % 100 === 0", "value": "#E5E5E5"}, "value": "#F5F5F5"}}},
"y2": {"datum": 0}
}
}
},
{
"data": {"name": "auroc"},
"facet": {"row": {"field": "t", "type": "nominal", "sort": ["IRE","HIS","ACO","EST","EGF","FGF","LAS","SKO","BHG","FNG","GFI","HIN","N20","PMA","INE","ETH","OTC","NFA","ISP","5AZ"], "header": null}},
"spacing": {"row": 10.7},
"spec": {
"width": 381, "height": 56.5,
"mark": {"type": "bar", "binSpacing": 0, "color": "#333333"},
"encoding": {
"x": {"field": "lo", "type": "quantitative", "bin": "binned", "scale": {"domain": [-0.105, 1.105], "nice": false, "zero": false},
 "axis": {"title": null, "values": [0, 0.125, 0.25, 0.375, 0.5, 0.625, 0.75, 0.875, 1],
  "labelExpr": "abs(datum.value*4-round(datum.value*4))<0.001 ? format(datum.value,'.2f') : ''",
  "gridColor": {"condition": {"test": "abs(datum.value*4-round(datum.value*4))<0.001", "value": "#E5E5E5"}, "value": "#F5F5F5"},
  "tickOpacity": {"condition": {"test": "abs(datum.value*4-round(datum.value*4))<0.001", "value": 1}, "value": 0}}},
"x2": {"field": "hi"},
"y": {"field": "n", "type": "quantitative", "scale": {"domain": [-17.6, 369.6], "nice": false, "zero": false},
 "axis": {"title": null, "labels": false, "ticks": false, "domain": false, "values": [0, 50, 100, 150, 200, 250, 300, 350],
  "gridColor": {"condition": {"test": "datum.value % 100 === 0", "value": "#E5E5E5"}, "value": "#F5F5F5"}}},
"y2": {"datum": 0}
}
}
},
{
"data": {"name": "pcor"},
"facet": {"row": {"field": "t", "type": "nominal", "sort": ["IRE","HIS","ACO","EST","EGF","FGF","LAS","SKO","BHG","FNG","GFI","HIN","N20","PMA","INE","ETH","OTC","NFA","ISP","5AZ"], "header": null}},
"spacing": {"row": 10.7},
"spec": {
"width": 381, "height": 56.5,
"mark": {"type": "bar", "binSpacing": 0, "color": "#333333"},
"encoding": {
"x": {"field": "lo", "type": "quantitative", "bin": "binned", "scale": {"domain": [-0.329, 0.329], "nice": false, "zero": false},
 "axis": {"title": null, "values": [-0.3, -0.2, -0.1, 0, 0.1, 0.2, 0.3],
  "labelExpr": "abs(datum.value*5-round(datum.value*5))<0.001 ? format(datum.value,'.1f') : ''",
  "gridColor": {"condition": {"test": "abs(datum.value*5-round(datum.value*5))<0.001", "value": "#E5E5E5"}, "value": "#F5F5F5"},
  "tickOpacity": {"condition": {"test": "abs(datum.value*5-round(datum.value*5))<0.001", "value": 1}, "value": 0}}},
"x2": {"field": "hi"},
"y": {"field": "n", "type": "quantitative", "scale": {"domain": [-17.6, 369.6], "nice": false, "zero": false},
 "axis": {"title": null, "labels": false, "ticks": false, "domain": false, "values": [0, 50, 100, 150, 200, 250, 300, 350],
  "gridColor": {"condition": {"test": "datum.value % 100 === 0", "value": "#E5E5E5"}, "value": "#F5F5F5"}}},
"y2": {"datum": 0}
}
}
},
{
"data": {"name": "bac"},
"facet": {"row": {"field": "t", "type": "nominal", "sort": ["IRE","HIS","ACO","EST","EGF","FGF","LAS","SKO","BHG","FNG","GFI","HIN","N20","PMA","INE","ETH","OTC","NFA","ISP","5AZ"], "header": null}},
"spacing": {"row": 10.7},
"spec": {
"width": 381, "height": 56.5,
"mark": {"type": "bar", "binSpacing": 0, "color": "#333333"},
"encoding": {
"x": {"field": "lo", "type": "quantitative", "bin": "binned", "scale": {"domain": [0.0614, 0.9355], "nice": false, "zero": false},
 "axis": {"title": null, "values": [0.125, 0.25, 0.375, 0.5, 0.625, 0.75, 0.875],
  "labelExpr": "abs(datum.value*4-round(datum.value*4))<0.001 ? format(datum.value,'.2f') : ''",
  "gridColor": {"condition": {"test": "abs(datum.value*4-round(datum.value*4))<0.001", "value": "#E5E5E5"}, "value": "#F5F5F5"},
  "tickOpacity": {"condition": {"test": "abs(datum.value*4-round(datum.value*4))<0.001", "value": 1}, "value": 0}}},
"x2": {"field": "hi"},
"y": {"field": "n", "type": "quantitative", "scale": {"domain": [-17.6, 369.6], "nice": false, "zero": false},
 "axis": {"title": null, "labels": false, "ticks": false, "domain": false, "values": [0, 50, 100, 150, 200, 250, 300, 350],
  "gridColor": {"condition": {"test": "datum.value % 100 === 0", "value": "#E5E5E5"}, "value": "#F5F5F5"}}},
"y2": {"datum": 0}
}
}
}
],
"spacing": 10.2,
"title": {"text": "value", "orient": "bottom", "anchor": "middle", "fontSize": 37.5, "fontWeight": "normal", "font": "Liberation Sans", "color": "#000000", "offset": 3}
},
{
"data": {"name": "targets"},
"facet": {"row": {"field": "t", "type": "nominal", "sort": ["IRE","HIS","ACO","EST","EGF","FGF","LAS","SKO","BHG","FNG","GFI","HIN","N20","PMA","INE","ETH","OTC","NFA","ISP","5AZ"], "header": null}},
"spacing": {"row": 10.7},
"spec": {
"width": 34, "height": 56.5,
"view": {"fill": "#CCCCCC", "stroke": "#7F7F7F", "strokeWidth": 1.5},
"mark": {"type": "text", "angle": 90, "fontSize": 34, "color": "#1A1A1A", "baseline": "middle", "dy": -4, "clip": true},
"encoding": {"text": {"field": "t"}}
}
}
],
"spacing": 0.5
}
],
"spacing": 0,
"config": {
"font": "Liberation Sans",
"view": {"stroke": "#7F7F7F", "strokeWidth": 1.5, "fill": "#FFFFFF"},
"axis": {"labelFont": "Liberation Sans", "labelFontSize": 31, "labelColor": "#000000", "tickColor": "#1A1A1A", "tickSize": 11, "tickWidth": 2, "labelPadding": 5, "domain": false, "gridWidth": 1.4, "labelOverlap": false, "labelFlush": false},
"text": {"font": "Liberation Sans"}
}
}
